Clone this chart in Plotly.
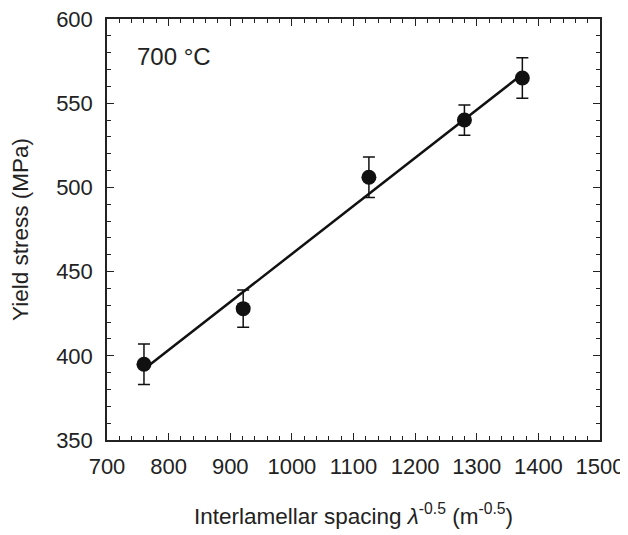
import plotly.graph_objects as go

spacing = [760, 921, 1125, 1280, 1374]
stress = [395, 428, 506, 540, 565]
err = [12, 11, 12, 9, 12]
fit_x = [760, 1375]
fit_y = [392, 567.5]

fig = go.Figure()
fig.add_trace(go.Scatter(x=fit_x, y=fit_y, mode="lines",
                         line=dict(color="#111111", width=2.5), showlegend=False))
fig.add_trace(go.Scatter(x=spacing, y=stress, mode="markers",
                         marker=dict(color="#111111", size=15),
                         error_y=dict(type="data", array=err, color="#111111",
                                      thickness=1.5, width=6),
                         showlegend=False))

font = "Liberation Sans, Arial, sans-serif"
axis_common = dict(showline=True, linecolor="#222222", linewidth=1.5, mirror="ticks",
                   ticks="inside", ticklen=7, tickwidth=1.2, tickcolor="#222222",
                   showgrid=False, zeroline=False, automargin=False,
                   ticklabeloverflow="allow",
                   tickfont=dict(family=font, size=22, color="#222222"))

fig.update_xaxes(range=[700, 1500], dtick=100, tick0=700,
                 minor=dict(dtick=20, ticks="inside", ticklen=4, tickcolor="#222222", tickwidth=1),
                 ticklabelstandoff=6,
                 title=dict(text="Interlamellar spacing <i>λ</i><sup>-0.5</sup> (m<sup>-0.5</sup>)",
                            font=dict(family=font, size=22.5, color="#222222"), standoff=30),
                 **axis_common)
fig.update_yaxes(range=[350, 600], dtick=50,
                 minor=dict(dtick=10, ticks="inside", ticklen=4, tickcolor="#222222", tickwidth=1),
                 ticklabelstandoff=8,
                 title=dict(text="Yield stress (MPa)",
                            font=dict(family=font, size=22.5, color="#222222"), standoff=28),
                 **axis_common)

fig.add_annotation(text="700 °C", xref="paper", yref="paper", x=0.057, y=0.91,
                   xanchor="left", yanchor="middle", showarrow=False,
                   font=dict(family=font, size=24, color="#222222"))

# page body adds an 8px offset; margins compensate so the plot area lands at x 107-600, y 19-440
fig.update_layout(width=628, height=535, plot_bgcolor="white", paper_bgcolor="white",
                  margin=dict(l=99, r=36, t=11, b=103))

fig.write_html("out.html")
